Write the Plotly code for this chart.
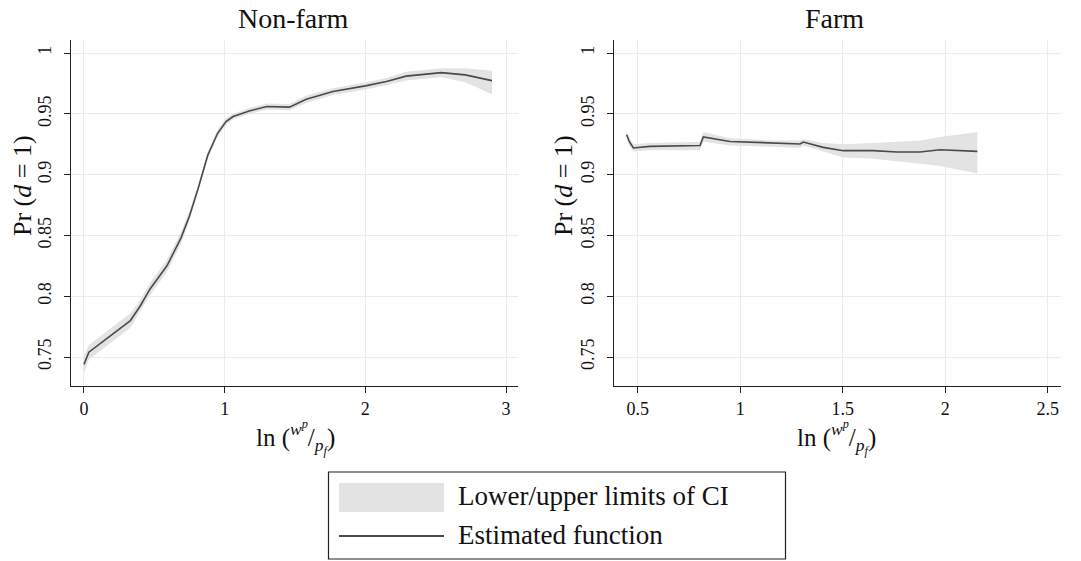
import plotly.graph_objects as go

# ---------------- data ----------------
nf_x = [0.0, 0.035, 0.33, 0.40, 0.47, 0.59, 0.69, 0.75, 0.81, 0.88, 0.95, 1.01, 1.06, 1.18, 1.30, 1.46, 1.58, 1.77, 2.0, 2.15, 2.29, 2.54, 2.71, 2.90]
nf_y = [0.744, 0.754, 0.780, 0.792, 0.806, 0.825, 0.848, 0.866, 0.888, 0.916, 0.934, 0.9437, 0.9478, 0.9525, 0.956, 0.9555, 0.962, 0.9683, 0.973, 0.9765, 0.981, 0.9839, 0.982, 0.9773]
nf_lo = [0.737, 0.748, 0.774, 0.787, 0.801, 0.820, 0.843, 0.862, 0.885, 0.913, 0.931, 0.941, 0.9455, 0.950, 0.9535, 0.953, 0.959, 0.9655, 0.970, 0.9735, 0.9775, 0.980, 0.976, 0.966]
nf_hi = [0.751, 0.760, 0.786, 0.797, 0.811, 0.830, 0.853, 0.870, 0.891, 0.919, 0.937, 0.9465, 0.950, 0.955, 0.9585, 0.958, 0.965, 0.971, 0.976, 0.9795, 0.9845, 0.9875, 0.9875, 0.9855]

fa_x = [0.446, 0.459, 0.479, 0.560, 0.804, 0.820, 0.950, 1.161, 1.292, 1.308, 1.405, 1.503, 1.649, 1.763, 1.877, 1.975, 2.157]
fa_y = [0.9328, 0.9273, 0.9219, 0.9232, 0.9240, 0.9310, 0.9273, 0.9260, 0.9252, 0.9268, 0.9224, 0.9197, 0.9197, 0.9186, 0.9186, 0.9205, 0.9191]
fa_lo = [0.929, 0.924, 0.919, 0.920, 0.920, 0.927, 0.924, 0.923, 0.922, 0.924, 0.919, 0.914, 0.913, 0.911, 0.909, 0.907, 0.901]
fa_hi = [0.936, 0.931, 0.925, 0.926, 0.927, 0.935, 0.930, 0.928, 0.928, 0.929, 0.926, 0.925, 0.926, 0.927, 0.928, 0.931, 0.935]

y_ticks = [0.75, 0.8, 0.85, 0.9, 0.95, 1.0]
y_tick_text = ["0.75", "0.8", "0.85", "0.9", "0.95", "1"]
nf_xticks = [0, 1, 2, 3]
fa_xticks = [0.5, 1, 1.5, 2, 2.5]
fa_xtick_text = ["0.5", "1", "1.5", "2", "2.5"]

panel_titles = ["Non-farm", "Farm"]
legend_labels = ["Lower/upper limits of CI", "Estimated function"]

# ---------------- style ----------------
W, H = 1081, 561
FONT = "Liberation Serif"
BAND = "#e3e3e3"
LINE = "#4a4a4a"
GRID = "#ebebeb"


def px_x(p):
    return p / W


def px_y(p):
    return 1 - p / H


fig = go.Figure()

for xs, ys, lo, hi, xa, ya in [
    (nf_x, nf_y, nf_lo, nf_hi, "x", "y"),
    (fa_x, fa_y, fa_lo, fa_hi, "x2", "y2"),
]:
    fig.add_trace(go.Scatter(
        x=list(xs) + list(xs)[::-1],
        y=list(hi) + list(lo)[::-1],
        fill="toself", fillcolor=BAND, line=dict(width=0),
        mode="lines", xaxis=xa, yaxis=ya, hoverinfo="skip", showlegend=False,
    ))
    fig.add_trace(go.Scatter(
        x=xs, y=ys, mode="lines", line=dict(color=LINE, width=1.6),
        xaxis=xa, yaxis=ya, showlegend=False,
    ))

axis_common = dict(
    showline=True, linecolor="#222222", linewidth=1.2, mirror=False,
    showgrid=True, gridcolor=GRID, gridwidth=1.2, zeroline=False,
    ticks="outside", ticklen=6, tickwidth=1.2, tickcolor="#222222",
    tickfont=dict(family=FONT, size=18, color="#111111"),
    automargin=False,
)

ydom = [px_y(386), px_y(40)]
fig.update_layout(
    width=W, height=H,
    margin=dict(l=0, r=0, t=0, b=0),
    paper_bgcolor="white", plot_bgcolor="white",
    showlegend=False,
    font=dict(family=FONT, color="#111111"),
    xaxis=dict(domain=[px_x(71), px_x(518)], range=[-0.092, 3.085],
               tickvals=nf_xticks, anchor="y", **axis_common),
    yaxis=dict(domain=ydom, range=[0.7262, 1.0107], tickvals=y_ticks,
               ticktext=y_tick_text, tickangle=-90, anchor="x",
               ticklabelstandoff=6, **axis_common),
    xaxis2=dict(domain=[px_x(614), px_x(1061)], range=[0.3844, 2.565],
                tickvals=fa_xticks, ticktext=fa_xtick_text, anchor="y2", **axis_common),
    yaxis2=dict(domain=ydom, range=[0.7262, 1.0107], tickvals=y_ticks,
                ticktext=y_tick_text, tickangle=-90, anchor="x2",
                ticklabelstandoff=6, **axis_common),
)

annotations = []
for cx, t in [(293, panel_titles[0]), (834, panel_titles[1])]:
    annotations.append(dict(x=px_x(cx), y=px_y(18), xref="paper", yref="paper",
                            text=t, showarrow=False, xanchor="center", yanchor="middle",
                            font=dict(family=FONT, size=28, color="#111111")))
for cx in [22, 563]:
    annotations.append(dict(x=px_x(cx), y=px_y(186), xref="paper", yref="paper",
                            text="Pr (<i>d</i> = 1)", textangle=-90, showarrow=False,
                            xanchor="center", yanchor="middle",
                            font=dict(family=FONT, size=26, color="#111111")))
for cx in [295, 836]:
    annotations.append(dict(x=px_x(cx), y=px_y(437), xref="paper", yref="paper",
                            text="ln (<sup><i>w<sup>p</sup></i></sup>/<sub><i>p<sub>f</sub></i></sub>)",
                            showarrow=False, xanchor="center", yanchor="middle",
                            font=dict(family=FONT, size=25, color="#111111")))
for cy, t in [(496, legend_labels[0]), (535, legend_labels[1])]:
    annotations.append(dict(x=px_x(456), y=px_y(cy), xref="paper", yref="paper",
                            text=t, showarrow=False, xanchor="left", yanchor="middle",
                            font=dict(family=FONT, size=27, color="#111111")))

shapes = [
    dict(type="rect", xref="paper", yref="paper",
         x0=px_x(328.5), x1=px_x(785.5), y0=px_y(559), y1=px_y(472),
         line=dict(color="#222222", width=1.2), fillcolor="rgba(0,0,0,0)"),
    dict(type="rect", xref="paper", yref="paper",
         x0=px_x(339), x1=px_x(444), y0=px_y(512), y1=px_y(483),
         line=dict(width=0), fillcolor=BAND),
    dict(type="line", xref="paper", yref="paper",
         x0=px_x(339), x1=px_x(444), y0=px_y(536), y1=px_y(536),
         line=dict(color=LINE, width=2)),
]

fig.update_layout(annotations=annotations, shapes=shapes)

fig.write_html("out.html", config={"displayModeBar": False},
               post_script="document.body.style.margin='0px';")
